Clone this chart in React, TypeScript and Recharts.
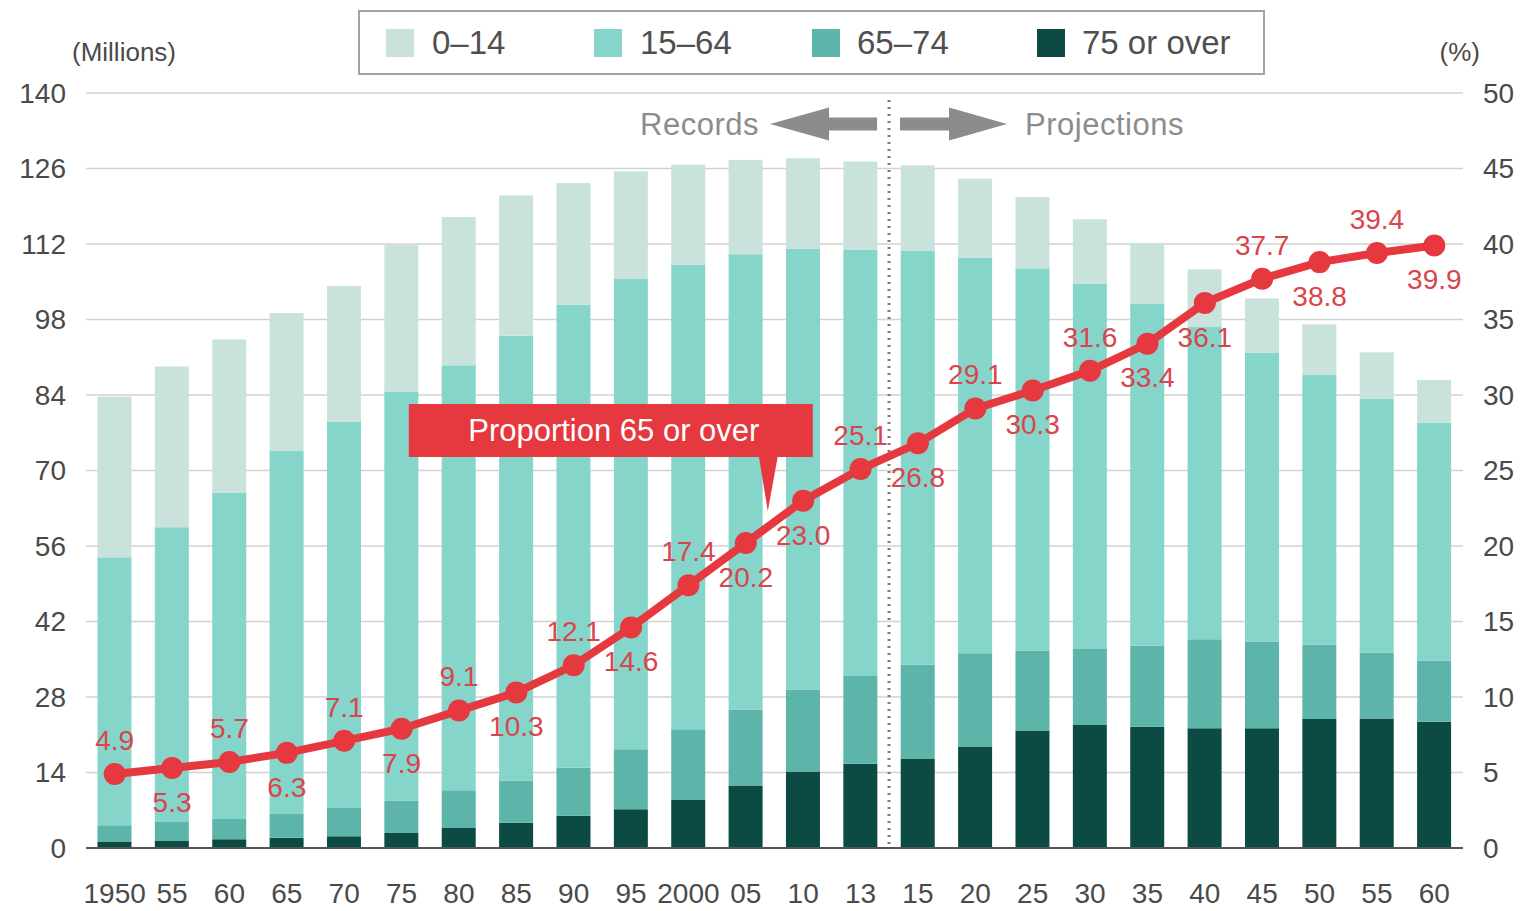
import React from 'react';
import {
  ComposedChart,
  Bar,
  Line,
  XAxis,
  YAxis,
  CartesianGrid,
  LabelList,
} from 'recharts';

// ---- data (millions / %) ----
const years = ['1950', '55', '60', '65', '70', '75', '80', '85', '90', '95', '2000', '05', '10', '13', '15', '20', '25', '30', '35', '40', '45', '50', '55', '60'];
const age0to14 = [29.8, 29.8, 28.4, 25.5, 25.2, 27.2, 27.5, 26.0, 22.5, 20.0, 18.5, 17.5, 16.8, 16.4, 15.8, 14.6, 13.2, 12.0, 11.3, 10.7, 10.1, 9.4, 8.6, 7.9];
const age15to64 = [49.7, 54.7, 60.5, 67.4, 71.6, 75.8, 78.8, 82.5, 85.9, 87.2, 86.2, 84.4, 81.7, 79.0, 76.8, 73.4, 70.9, 67.7, 63.4, 57.9, 53.5, 50.0, 47.1, 44.2];
const age65to74 = [3.1, 3.4, 3.8, 4.4, 5.2, 6.0, 7.0, 7.8, 8.9, 11.1, 13.0, 14.1, 15.2, 16.3, 17.5, 17.3, 14.8, 14.1, 15.0, 16.5, 16.1, 13.8, 12.2, 11.3];
const age75plus = [1.1, 1.4, 1.6, 1.9, 2.2, 2.8, 3.7, 4.7, 6.0, 7.2, 9.0, 11.6, 14.2, 15.6, 16.5, 18.8, 21.8, 22.8, 22.5, 22.2, 22.2, 23.9, 24.0, 23.4];
const share65plus = [4.9, 5.3, 5.7, 6.3, 7.1, 7.9, 9.1, 10.3, 12.1, 14.6, 17.4, 20.2, 23.0, 25.1, 26.8, 29.1, 30.3, 31.6, 33.4, 36.1, 37.7, 38.8, 39.4, 39.9];
const leftTicks = [0, 14, 28, 42, 56, 70, 84, 98, 112, 126, 140];
const rightTicks = [0, 5, 10, 15, 20, 25, 30, 35, 40, 45, 50];
const seriesNames = ['0–14', '15–64', '65–74', '75 or over'];
const lastRecordYear = '13';
const calloutYear = '05';

const data = years.map((year, i) => ({
  year,
  a75: age75plus[i],
  a65: age65to74[i],
  a15: age15to64[i],
  a0: age0to14[i],
  share: share65plus[i],
}));

// ---- layout / styles ----
const CHART_W = 1521;
const CHART_H = 900;
const TOP_MARGIN = 85;
const X_AXIS_H = 60;
const LEFT_AXIS_W = 78;
const RIGHT_AXIS_W = 66;
const HALF_BAND = (CHART_W - LEFT_AXIS_W - RIGHT_AXIS_W) / years.length / 2;

const FONT = '"Liberation Sans", Arial, Helvetica, sans-serif';
const C0 = '#c9e3dc';
const C15 = '#86d5cb';
const C65 = '#5db4a9';
const C75 = '#0b4b44';
const RED = '#e5383f';
const LABEL_RED = '#d9454d';
const TICK = '#4a4a4a';
const GRAY = '#8c8c8c';

// label placement: true = below the point
const labelBelow = [false, true, false, true, false, true, false, true, false, true, false, true, true, false, true, false, true, false, true, true, false, true, false, true];

const Callout = ({ tx, ty }: { tx: number; ty: number }) => {
  const rx = tx - 359;
  const ry = ty - 107;
  const w = 404;
  const h = 53;
  return (
    <g>
      <rect x={rx} y={ry} width={w} height={h} fill={RED} />
      <polygon points={`${tx - 9},${ry + h - 1} ${tx + 10},${ry + h - 1} ${tx},${ty}`} fill={RED} />
      <text x={rx + w / 2 + 3} y={ry + h / 2} dy="0.35em" textAnchor="middle" fill="#ffffff" fontSize={31} fontFamily={FONT}>
        Proportion 65 or over
      </text>
    </g>
  );
};

const ShareLabel = (props: any) => {
  const { x, y, value } = props;
  let idx = props.index;
  if (idx === undefined || idx === null) idx = share65plus.indexOf(value);
  const below = labelBelow[idx];
  return (
    <g>
      <text
        x={x}
        y={y + (below ? 34 : -34)}
        dy="0.35em"
        textAnchor="middle"
        fill={LABEL_RED}
        fontSize={28}
        fontFamily={FONT}
      >
        {Number(value).toFixed(1)}
      </text>
      {years[idx] === calloutYear ? <Callout tx={x + 22} ty={y - 32} /> : null}
    </g>
  );
};

const Divider = ({ x, yTop, yBot }: { x: number; yTop: number; yBot: number }) => {
  const cy = yTop + 31;
  const leftArrow = `M ${x - 119} ${cy} L ${x - 60} ${cy - 16.5} L ${x - 60} ${cy - 6.5} L ${x - 12} ${cy - 6.5} L ${x - 12} ${cy + 6.5} L ${x - 60} ${cy + 6.5} L ${x - 60} ${cy + 16.5} Z`;
  const rightArrow = `M ${x + 118} ${cy} L ${x + 60} ${cy - 16.5} L ${x + 60} ${cy - 6.5} L ${x + 11} ${cy - 6.5} L ${x + 11} ${cy + 6.5} L ${x + 60} ${cy + 6.5} L ${x + 60} ${cy + 16.5} Z`;
  return (
    <g>
      <line x1={x} x2={x} y1={yTop + 7} y2={yBot} stroke="#7a7a7a" strokeWidth={3} strokeDasharray="2 5" />
      <text x={x - 130} y={cy} dy="0.35em" textAnchor="end" fill={GRAY} fontSize={31} fontFamily={FONT} letterSpacing={0.5}>
        Records
      </text>
      <path d={leftArrow} fill={GRAY} />
      <path d={rightArrow} fill={GRAY} />
      <text x={x + 136} y={cy} dy="0.35em" textAnchor="start" fill={GRAY} fontSize={31} fontFamily={FONT} letterSpacing={0.5}>
        Projections
      </text>
    </g>
  );
};

// top segment of each stack; the last record year also carries the Records/Projections divider
const TopBarShape = (props: any) => {
  const { x, y, width, height, fill, index, payload } = props;
  const bg = props.background;
  const isLast = (payload && payload.year === lastRecordYear) || years[index] === lastRecordYear;
  const plotTop = bg && Number.isFinite(bg.y) ? bg.y : TOP_MARGIN;
  const plotBot = bg && Number.isFinite(bg.height) ? bg.y + bg.height : CHART_H - X_AXIS_H;
  return (
    <g>
      <rect x={x} y={y} width={width} height={height} fill={fill} />
      {isLast ? <Divider x={x + width / 2 + HALF_BAND} yTop={plotTop} yBot={plotBot} /> : null}
    </g>
  );
};

const LeftUnit = (props: any) => {
  const vb = props.viewBox || {};
  return (
    <text x={(vb.x ?? 0) + 64} y={(vb.y ?? 0) - 41} dy="0.35em" textAnchor="start" fill={TICK} fontSize={26} fontFamily={FONT}>
      (Millions)
    </text>
  );
};

const RightUnit = (props: any) => {
  const vb = props.viewBox || {};
  return (
    <text x={(vb.x ?? 0) + 17} y={(vb.y ?? 0) - 41} dy="0.35em" textAnchor="end" fill={TICK} fontSize={26} fontFamily={FONT}>
      (%)
    </text>
  );
};

const legendColors = [C0, C15, C65, C75];
const legendSwatchX = [26, 234, 452, 677];
const legendTextX = [72, 280, 497, 722];

const LegendBox = () => (
  <div
    style={{
      position: 'absolute',
      left: 350,
      top: 2,
      width: 903,
      height: 61,
      border: '2px solid #a3a3a3',
      background: '#fff',
      fontFamily: FONT,
      zIndex: 2,
    }}
  >
    {seriesNames.map((name, i) => (
      <React.Fragment key={name}>
        <div
          style={{
            position: 'absolute',
            left: legendSwatchX[i],
            top: 17,
            width: 28,
            height: 28,
            background: legendColors[i],
          }}
        />
        <div
          style={{
            position: 'absolute',
            left: legendTextX[i],
            top: 11,
            fontSize: 33,
            lineHeight: '40px',
            color: '#4f4f4f',
            whiteSpace: 'nowrap',
          }}
        >
          {name}
        </div>
      </React.Fragment>
    ))}
  </div>
);

export default function App() {
  return (
    <div style={{ position: 'relative', width: CHART_W, height: CHART_H, fontFamily: FONT }}>
      <LegendBox />
      <ComposedChart
        width={CHART_W}
        height={CHART_H}
        data={data}
        margin={{ top: TOP_MARGIN, right: 0, left: 0, bottom: 0 }}
        barCategoryGap="20%"
      >
        <CartesianGrid vertical={false} stroke="#d2d2d2" strokeWidth={1.5} yAxisId="left" />
        <XAxis
          dataKey="year"
          height={X_AXIS_H}
          tickLine={false}
          axisLine={{ stroke: '#555', strokeWidth: 2 }}
          tickMargin={29}
          tick={{ fill: TICK, fontSize: 28, fontFamily: FONT }}
          interval={0}
        />
        <YAxis
          yAxisId="left"
          orientation="left"
          width={LEFT_AXIS_W}
          domain={[0, 140]}
          ticks={leftTicks}
          allowDataOverflow
          axisLine={false}
          tickLine={false}
          tickMargin={14}
          tick={{ fill: TICK, fontSize: 28, fontFamily: FONT }}
          label={(p: any) => <LeftUnit {...p} />}
        />
        <YAxis
          yAxisId="right"
          orientation="right"
          width={RIGHT_AXIS_W}
          domain={[0, 50]}
          ticks={rightTicks}
          allowDataOverflow
          axisLine={false}
          tickLine={false}
          tickMargin={14}
          tick={{ fill: TICK, fontSize: 28, fontFamily: FONT }}
          label={(p: any) => <RightUnit {...p} />}
        />
        <Bar yAxisId="left" dataKey="a75" name={seriesNames[3]} stackId="pop" fill={C75} isAnimationActive={false} />
        <Bar yAxisId="left" dataKey="a65" name={seriesNames[2]} stackId="pop" fill={C65} isAnimationActive={false} />
        <Bar yAxisId="left" dataKey="a15" name={seriesNames[1]} stackId="pop" fill={C15} isAnimationActive={false} />
        <Bar
          yAxisId="left"
          dataKey="a0"
          name={seriesNames[0]}
          stackId="pop"
          fill={C0}
          isAnimationActive={false}
          shape={(p: any) => <TopBarShape {...p} />}
        />
        <Line
          yAxisId="right"
          dataKey="share"
          type="linear"
          stroke={RED}
          strokeWidth={8}
          dot={{ r: 11, fill: RED, stroke: 'none' }}
          activeDot={false}
          isAnimationActive={false}
        >
          <LabelList dataKey="share" content={(p: any) => <ShareLabel {...p} />} />
        </Line>
      </ComposedChart>
    </div>
  );
}
